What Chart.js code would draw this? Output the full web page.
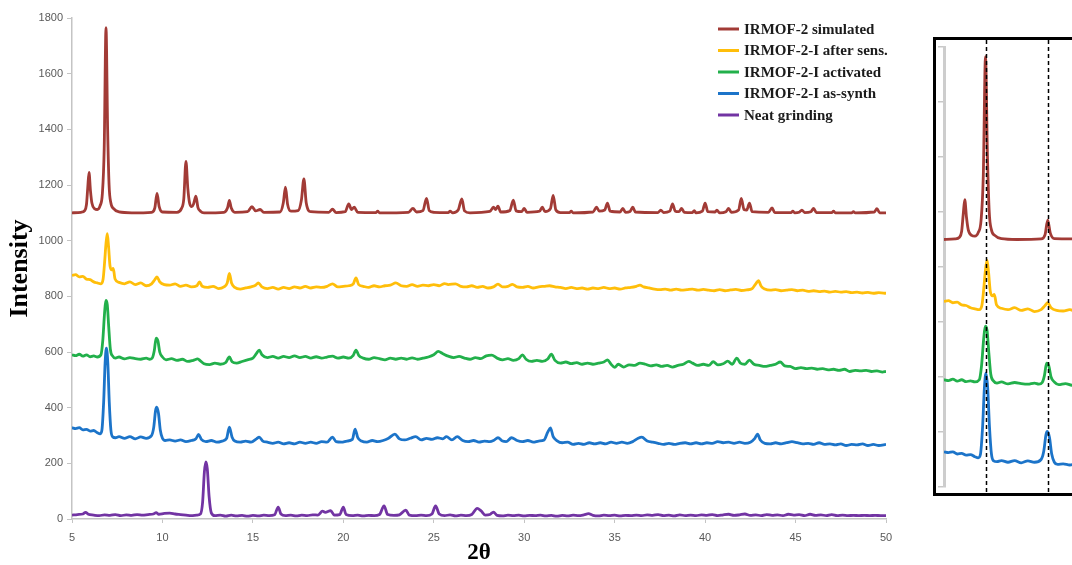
<!DOCTYPE html>
<html>
<head>
<meta charset="utf-8">
<title>IRMOF-2 PXRD</title>
<script src="https://cdn.jsdelivr.net/npm/chart.js@4.4.1/dist/chart.umd.min.js"></script>
<style>
  html, body { margin: 0; padding: 0; background: #fff; overflow: hidden; width: 1072px; height: 565px; }
  #main-wrap { position: absolute; left: 0; top: 0; width: 925px; height: 565px; }
  #inset-wrap { position: absolute; left: 933px; top: 37px; width: 200px; height: 453px; border: 3px solid #000; overflow: hidden; }
</style>
</head>
<body>
<div id="main-wrap"><canvas id="xrdChart"></canvas></div>
<div id="inset-wrap"><canvas id="insetChart"></canvas></div>

<script>
// ---- data: [2theta, intensity] pairs, offset stacked patterns ----
const seriesNames = ['IRMOF-2 simulated', 'IRMOF-2-I after sens.', 'IRMOF-2-I activated', 'IRMOF-2-I as-synth', 'Neat grinding'];
const seriesColors = ['#A23B36', '#FFBE0A', '#22B04B', '#1C74C9', '#7234A3'];

const simulated = [[5,1100],[5.5,1102],[5.7,1108],[5.8,1130],[5.87,1190],[5.94,1245],[6.02,1180],[6.1,1135],[6.25,1115],[6.4,1112],[6.55,1125],[6.68,1170],[6.78,1330],[6.88,1765],[6.97,1400],[7.05,1200],[7.15,1135],[7.3,1115],[7.6,1103],[8.3,1100],[9.4,1102],[9.58,1118],[9.7,1170],[9.82,1122],[10.0,1103],[10.8,1102],[11.05,1115],[11.18,1150],[11.3,1285],[11.4,1190],[11.5,1135],[11.62,1122],[11.72,1132],[11.85,1160],[11.96,1120],[12.1,1106],[12.3,1100],[13.4,1102],[13.6,1118],[13.7,1145],[13.8,1118],[14.0,1102],[14.7,1104],[14.95,1122],[15.15,1107],[15.4,1112],[15.6,1102],[16.5,1103],[16.68,1135],[16.8,1192],[16.92,1130],[17.1,1106],[17.5,1108],[17.68,1145],[17.82,1222],[17.95,1135],[18.2,1104],[19.2,1102],[19.4,1113],[19.6,1101],[20.1,1104],[20.3,1132],[20.45,1112],[20.6,1120],[20.8,1102],[21.8,1101],[21.9,1106],[22.0,1100],[23.6,1102],[23.85,1116],[24.05,1103],[24.4,1108],[24.6,1152],[24.75,1108],[25.0,1102],[25.8,1101],[25.9,1106],[26.05,1100],[26.35,1110],[26.55,1150],[26.7,1107],[27.0,1100],[28.1,1105],[28.3,1120],[28.42,1112],[28.55,1124],[28.7,1103],[29.2,1108],[29.4,1146],[29.55,1107],[29.85,1104],[30.0,1116],[30.15,1102],[30.85,1106],[31.0,1120],[31.15,1104],[31.45,1115],[31.6,1163],[31.75,1110],[32.0,1101],[32.5,1101],[32.6,1106],[32.7,1100],[33.8,1103],[34.0,1120],[34.15,1106],[34.45,1110],[34.6,1135],[34.75,1106],[35.3,1103],[35.45,1116],[35.6,1102],[35.85,1105],[36.0,1120],[36.15,1103],[37.4,1101],[37.55,1110],[37.7,1101],[38.05,1106],[38.2,1132],[38.35,1106],[38.55,1104],[38.7,1116],[38.85,1102],[39.3,1101],[39.4,1108],[39.5,1100],[39.85,1106],[40.0,1135],[40.15,1104],[40.55,1103],[40.65,1110],[40.8,1100],[41.15,1104],[41.3,1116],[41.45,1102],[41.85,1110],[42.0,1152],[42.15,1112],[42.3,1110],[42.45,1135],[42.6,1104],[43.5,1102],[43.7,1118],[43.85,1101],[44.75,1101],[44.85,1106],[44.95,1100],[45.2,1102],[45.35,1110],[45.5,1101],[45.85,1104],[46.0,1116],[46.15,1101],[47.0,1101],[47.1,1106],[47.2,1100],[48.1,1100],[48.2,1104],[48.3,1100],[49.35,1103],[49.5,1115],[49.65,1100],[50,1100]];

const afterSens = [[5,875],[5.2,878],[5.4,870],[5.6,872],[5.8,862],[6.0,860],[6.2,852],[6.4,848],[6.6,845],[6.72,862],[6.8,920],[6.88,990],[6.95,1025],[7.02,980],[7.1,910],[7.2,895],[7.28,900],[7.38,862],[7.6,850],[7.9,845],[8.2,852],[8.5,842],[8.8,848],[9.1,838],[9.4,845],[9.58,860],[9.7,870],[9.85,852],[10.1,842],[10.4,840],[10.7,845],[11.0,836],[11.3,840],[11.6,834],[11.9,838],[12.05,852],[12.2,836],[12.5,832],[12.8,836],[13.1,828],[13.4,834],[13.58,848],[13.7,882],[13.82,848],[14.0,832],[14.3,826],[14.6,830],[14.9,834],[15.15,840],[15.3,848],[15.5,834],[15.8,828],[16.1,832],[16.4,826],[16.7,832],[17.0,828],[17.3,834],[17.6,830],[17.9,836],[18.2,830],[18.5,834],[18.8,832],[19.1,836],[19.4,845],[19.7,834],[20.0,836],[20.3,838],[20.55,845],[20.7,866],[20.85,842],[21.1,836],[21.4,832],[21.7,838],[22.0,834],[22.3,838],[22.6,840],[22.9,848],[23.2,838],[23.5,836],[23.8,842],[24.1,836],[24.4,840],[24.7,838],[25.0,842],[25.3,838],[25.6,846],[25.8,842],[26.2,845],[26.5,836],[26.8,834],[27.1,838],[27.4,832],[27.7,836],[28.0,830],[28.3,834],[28.55,844],[28.8,834],[29.1,836],[29.35,843],[29.6,834],[29.9,832],[30.2,836],[30.5,830],[30.8,834],[31.1,836],[31.4,838],[31.7,834],[32.0,832],[32.3,828],[32.6,832],[32.9,828],[33.2,830],[33.5,826],[33.8,830],[34.1,828],[34.4,832],[34.7,828],[35.0,830],[35.3,826],[35.6,830],[35.9,832],[36.2,836],[36.4,840],[36.6,834],[36.9,830],[37.2,826],[37.5,824],[37.8,826],[38.1,822],[38.4,826],[38.7,822],[39.0,824],[39.3,826],[39.6,822],[39.9,825],[40.2,822],[40.5,820],[40.8,824],[41.1,820],[41.4,823],[41.7,825],[42.0,821],[42.3,823],[42.6,828],[42.8,845],[42.95,856],[43.1,836],[43.3,826],[43.6,822],[43.9,824],[44.2,820],[44.5,822],[44.8,824],[45.1,820],[45.4,822],[45.7,818],[46.0,820],[46.3,817],[46.6,819],[46.9,815],[47.2,818],[47.5,815],[47.8,817],[48.1,813],[48.4,815],[48.7,812],[49.0,814],[49.3,811],[49.6,813],[50,811]];

const activated = [[5,590],[5.2,587],[5.4,592],[5.6,585],[5.8,590],[6.0,583],[6.2,586],[6.4,582],[6.6,590],[6.7,640],[6.8,740],[6.87,785],[6.95,770],[7.03,690],[7.12,610],[7.25,585],[7.4,578],[7.6,582],[7.9,575],[8.2,580],[8.5,576],[8.8,574],[9.1,578],[9.3,574],[9.45,580],[9.55,605],[9.65,650],[9.75,640],[9.85,600],[10.0,582],[10.2,572],[10.5,576],[10.8,570],[11.1,574],[11.4,566],[11.7,570],[11.95,575],[12.1,568],[12.3,558],[12.6,555],[12.9,560],[13.2,556],[13.5,562],[13.7,582],[13.85,565],[14.1,560],[14.4,566],[14.7,572],[15.0,578],[15.2,595],[15.35,607],[15.5,590],[15.8,580],[16.1,584],[16.4,578],[16.7,584],[17.0,580],[17.3,586],[17.6,580],[17.9,584],[18.2,578],[18.5,583],[18.8,578],[19.1,582],[19.4,585],[19.7,578],[20.0,582],[20.3,578],[20.55,588],[20.7,607],[20.85,588],[21.1,578],[21.4,574],[21.7,580],[22.0,576],[22.3,572],[22.6,578],[22.9,574],[23.2,578],[23.5,574],[23.8,579],[24.1,574],[24.4,578],[24.7,582],[25.0,590],[25.25,602],[25.5,594],[25.8,585],[26.1,580],[26.4,584],[26.7,578],[27.0,574],[27.3,580],[27.6,576],[27.9,586],[28.2,589],[28.5,578],[28.8,572],[29.1,576],[29.4,570],[29.7,576],[29.9,590],[30.1,574],[30.4,566],[30.7,570],[31.0,566],[31.3,575],[31.5,592],[31.7,570],[32.0,560],[32.3,564],[32.6,558],[32.9,562],[33.2,556],[33.5,560],[33.8,556],[34.1,560],[34.4,564],[34.6,572],[34.8,556],[35.0,545],[35.2,556],[35.5,546],[35.8,554],[36.1,552],[36.4,560],[36.7,556],[37.0,550],[37.3,554],[37.6,548],[37.9,552],[38.2,546],[38.5,552],[38.8,556],[39.1,566],[39.3,560],[39.6,552],[39.9,556],[40.2,552],[40.45,565],[40.7,554],[41.0,558],[41.25,567],[41.5,556],[41.75,578],[41.95,560],[42.2,556],[42.45,571],[42.7,556],[43.0,552],[43.3,548],[43.6,552],[43.9,556],[44.15,564],[44.4,550],[44.7,548],[45.0,540],[45.3,544],[45.6,540],[45.9,542],[46.2,538],[46.5,540],[46.8,536],[47.1,538],[47.4,534],[47.7,538],[48.0,530],[48.3,534],[48.6,532],[48.9,534],[49.2,530],[49.5,532],[49.8,528],[50,530]];

const asSynth = [[5,328],[5.2,325],[5.4,328],[5.6,320],[5.8,322],[6.0,316],[6.2,318],[6.4,310],[6.55,306],[6.65,318],[6.75,420],[6.83,560],[6.9,614],[6.98,560],[7.06,420],[7.15,320],[7.25,295],[7.4,292],[7.6,296],[7.9,290],[8.2,296],[8.5,288],[8.8,295],[9.1,290],[9.4,300],[9.52,330],[9.62,390],[9.68,402],[9.78,380],[9.88,320],[10.0,290],[10.15,282],[10.4,284],[10.7,280],[11.0,284],[11.3,278],[11.6,282],[11.85,288],[12.0,304],[12.15,286],[12.4,278],[12.7,282],[13.0,276],[13.3,280],[13.55,290],[13.7,330],[13.85,294],[14.0,280],[14.3,276],[14.6,280],[14.9,276],[15.2,288],[15.35,294],[15.55,280],[15.8,276],[16.1,272],[16.4,276],[16.7,270],[17.0,274],[17.3,270],[17.6,276],[17.9,272],[18.2,276],[18.5,272],[18.8,278],[19.1,276],[19.4,294],[19.6,278],[19.9,276],[20.2,280],[20.5,286],[20.65,323],[20.8,292],[21.0,280],[21.3,276],[21.6,282],[21.9,278],[22.2,282],[22.5,290],[22.85,305],[23.1,288],[23.4,284],[23.7,290],[24.0,296],[24.3,284],[24.6,290],[24.9,286],[25.2,292],[25.5,288],[25.7,296],[26.0,284],[26.3,296],[26.6,282],[26.9,278],[27.2,282],[27.5,276],[27.8,280],[28.1,278],[28.3,282],[28.55,292],[28.8,280],[29.0,278],[29.3,292],[29.6,282],[29.9,278],[30.2,282],[30.5,276],[30.8,280],[31.1,284],[31.3,312],[31.45,327],[31.6,296],[31.8,282],[32.1,274],[32.4,276],[32.7,268],[33.0,272],[33.3,268],[33.6,274],[33.9,270],[34.2,274],[34.5,270],[34.8,276],[35.1,272],[35.4,276],[35.7,272],[36.0,278],[36.3,290],[36.5,294],[36.8,280],[37.1,276],[37.4,272],[37.7,268],[38.0,272],[38.3,268],[38.6,272],[38.9,274],[39.2,270],[39.5,274],[39.8,270],[40.1,274],[40.4,272],[40.7,278],[41.0,274],[41.3,276],[41.6,272],[41.9,276],[42.2,272],[42.5,276],[42.75,290],[42.9,305],[43.05,284],[43.3,272],[43.6,270],[43.9,274],[44.2,270],[44.5,274],[44.8,278],[45.1,274],[45.4,270],[45.7,272],[46.0,268],[46.3,274],[46.6,268],[46.9,270],[47.2,266],[47.5,270],[47.8,264],[48.1,268],[48.4,266],[48.7,270],[49.0,264],[49.3,268],[49.6,264],[50,268]];

const neatGrinding = [[5,14],[5.3,16],[5.6,18],[5.75,24],[5.9,17],[6.2,14],[6.5,12],[6.8,15],[7.1,13],[7.4,16],[7.7,12],[8.0,15],[8.3,13],[8.6,16],[8.9,14],[9.2,16],[9.5,18],[9.65,23],[9.8,17],[10.1,20],[10.4,21],[10.7,18],[11.0,16],[11.3,14],[11.6,12],[11.9,14],[12.1,18],[12.22,60],[12.32,170],[12.4,205],[12.48,180],[12.58,80],[12.7,22],[12.9,12],[13.2,14],[13.5,10],[13.8,14],[14.1,11],[14.4,13],[14.7,10],[15.0,13],[15.3,11],[15.6,14],[15.9,12],[16.2,15],[16.4,43],[16.55,18],[16.8,12],[17.1,14],[17.4,11],[17.7,14],[18.0,12],[18.3,15],[18.6,14],[18.85,28],[19.0,24],[19.3,30],[19.5,14],[19.8,16],[20.0,43],[20.15,16],[20.5,12],[20.8,14],[21.1,11],[21.4,13],[21.7,12],[22.0,16],[22.25,47],[22.45,16],[22.8,13],[23.1,15],[23.45,32],[23.65,14],[24.0,12],[24.3,14],[24.6,12],[24.9,18],[25.1,47],[25.3,18],[25.6,12],[25.9,15],[26.2,11],[26.5,14],[26.8,12],[27.1,16],[27.4,38],[27.6,30],[27.85,14],[28.1,16],[28.3,25],[28.5,13],[28.8,11],[29.1,14],[29.4,12],[29.7,14],[30.0,11],[30.3,13],[30.6,12],[30.9,14],[31.2,11],[31.5,13],[31.8,10],[32.1,13],[32.4,11],[32.7,14],[33.0,12],[33.3,15],[33.55,19],[33.8,13],[34.1,11],[34.4,14],[34.7,12],[35.0,14],[35.3,11],[35.6,13],[35.9,12],[36.2,14],[36.5,12],[36.8,15],[37.1,13],[37.4,16],[37.7,12],[38.0,14],[38.3,11],[38.6,15],[38.9,12],[39.2,14],[39.5,12],[39.8,15],[40.1,13],[40.4,16],[40.7,12],[41.0,15],[41.3,17],[41.6,13],[41.9,15],[42.2,18],[42.5,13],[42.8,15],[43.1,12],[43.4,16],[43.7,13],[44.0,15],[44.3,12],[44.6,17],[44.9,14],[45.2,16],[45.5,12],[45.8,17],[46.1,13],[46.4,15],[46.7,12],[47.0,16],[47.3,12],[47.6,14],[47.9,12],[48.2,13],[48.5,12],[48.8,13],[49.1,12],[49.4,13],[49.7,12],[50,12]];

const allSeries = [simulated, afterSens, activated, asSynth, neatGrinding];

// axis ranges / ticks
const xTicks = [5, 10, 15, 20, 25, 30, 35, 40, 45, 50];
const yMax = 1800, yStep = 200;
const insetRange = [5, 13.7];
const insetY = [200, 1800];
const markerAngles = [6.9, 9.7];   // dashed guides in the zoom panel

function buildDatasets(count) {
    return allSeries.slice(0, count).map((pts, i) => ({
        label: seriesNames[i],
        data: pts.map(p => ({ x: p[0], y: p[1] })),
        borderColor: seriesColors[i],
        backgroundColor: seriesColors[i],
        borderWidth: 2.8,
        pointRadius: 0,
        cubicInterpolationMode: 'monotone',
        fill: false
    }));
}

// legend drawn straight onto the canvas, top right
const legendPlugin = {
    id: 'sideLegend',
    afterDraw(chart) {
        const ctx = chart.ctx;
        ctx.save();
        ctx.font = 'bold 15px "Liberation Serif", "DejaVu Serif", serif';
        ctx.textBaseline = 'middle';
        chart.data.datasets.forEach((ds, i) => {
            const y = 29 + i * 21.5;
            ctx.strokeStyle = ds.borderColor;
            ctx.lineWidth = 3;
            ctx.beginPath();
            ctx.moveTo(718, y);
            ctx.lineTo(739, y);
            ctx.stroke();
            ctx.fillStyle = '#1b1b1b';
            ctx.fillText(ds.label, 744, y + 1);
        });
        ctx.restore();
    }
};

// vertical dashed guides on the inset
const guidePlugin = {
    id: 'guides',
    afterDatasetsDraw(chart) {
        const ctx = chart.ctx;
        const xs = chart.scales.x;
        ctx.save();
        ctx.strokeStyle = '#000';
        ctx.lineWidth = 1.5;
        ctx.setLineDash([4, 3]);
        markerAngles.forEach(a => {
            const px = Math.round(xs.getPixelForValue(a)) + 0.5;
            ctx.beginPath();
            ctx.moveTo(px, 0);
            ctx.lineTo(px, chart.height);
            ctx.stroke();
        });
        ctx.restore();
    }
};

document.addEventListener('DOMContentLoaded', function() {
    const axisGray = '#c4c4c4';
    const tickFont = { family: '"Liberation Sans", Arial, sans-serif', size: 11 };
    const serif = '"Liberation Serif", "DejaVu Serif", serif';

    new Chart(document.getElementById('xrdChart'), {
        type: 'line',
        data: { datasets: buildDatasets(5) },
        plugins: [legendPlugin],
        options: {
            responsive: true,
            maintainAspectRatio: false,
            animation: false,
            layout: { padding: { left: 7, top: 18, right: 39, bottom: 0 } },
            plugins: { legend: { display: false }, tooltip: { enabled: false } },
            scales: {
                x: {
                    type: 'linear',
                    min: xTicks[0],
                    max: xTicks[xTicks.length - 1],
                    afterBuildTicks: s => { s.ticks = xTicks.map(v => ({ value: v })); },
                    afterFit: s => { s.height = 46; },
                    grid: { drawOnChartArea: false, tickLength: 4, color: axisGray },
                    border: { color: axisGray, width: 1.5 },
                    ticks: { color: '#595959', font: tickFont, padding: 8, maxRotation: 0, callback: v => String(v) },
                    title: { display: true, text: '2θ', color: '#000', font: { family: serif, size: 23, weight: 'bold', lineHeight: 1 }, padding: 0 }
                },
                y: {
                    min: 0,
                    max: yMax,
                    afterFit: s => { s.width = 65; },
                    grid: { drawOnChartArea: false, tickLength: 5, color: axisGray },
                    border: { color: axisGray, width: 1.5 },
                    ticks: { stepSize: yStep, color: '#595959', font: tickFont, padding: 4, callback: v => String(v) },
                    title: { display: true, text: 'Intensity', color: '#000', font: { family: serif, size: 26, weight: 'bold', lineHeight: 1 }, padding: 0 }
                }
            }
        }
    });

    // zoomed view of the low-angle region (first four patterns)
    new Chart(document.getElementById('insetChart'), {
        type: 'line',
        data: { datasets: buildDatasets(4) },
        plugins: [guidePlugin],
        options: {
            responsive: true,
            maintainAspectRatio: false,
            animation: false,
            layout: { padding: { left: 0, top: 7, right: 0, bottom: 6 } },
            plugins: { legend: { display: false }, tooltip: { enabled: false } },
            scales: {
                x: { type: 'linear', min: insetRange[0], max: insetRange[1], display: false },
                y: {
                    min: insetY[0],
                    max: insetY[1],
                    afterFit: s => { s.width = 8; },
                    grid: { drawOnChartArea: false, tickLength: 6, color: '#c8c8c8', lineWidth: 1.5 },
                    border: { color: '#cdcdcd', width: 3 },
                    ticks: { stepSize: yStep, display: false }
                }
            }
        }
    });
});
</script>
</body>
</html>
